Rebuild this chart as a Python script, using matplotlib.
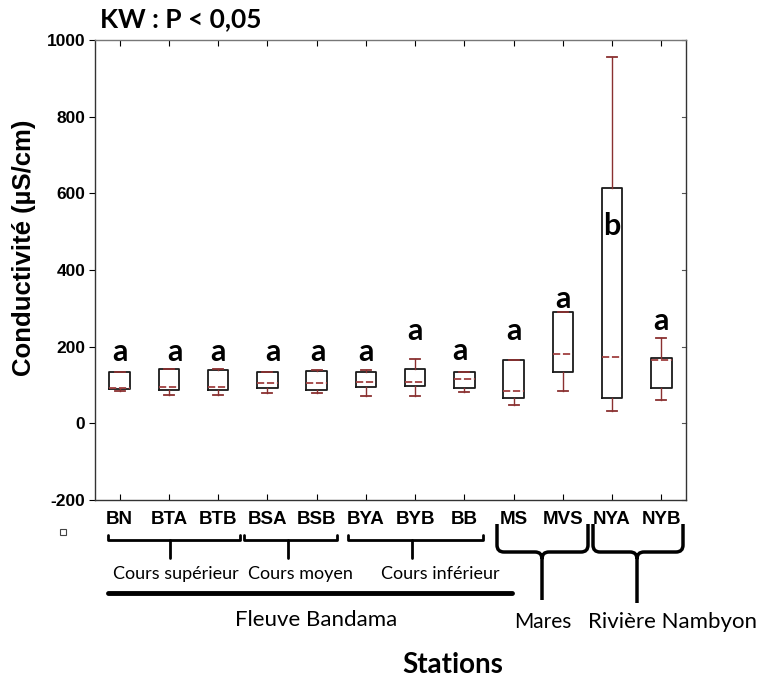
import matplotlib.pyplot as plt
import numpy as np
from matplotlib.path import Path
from matplotlib.patches import PathPatch, Rectangle
from matplotlib.lines import Line2D

plt.rcParams["axes.unicode_minus"] = False

# stations et statistiques des boîtes (µS/cm)
stations = ["BN", "BTA", "BTB", "BSA", "BSB", "BYA", "BYB", "BB", "MS", "MVS", "NYA", "NYB"]
mins = [85, 75, 75, 80, 80, 72, 72, 81, 48, 85, 33, 61]
q1 = [90, 87, 87, 93, 87, 95, 98, 91, 67, 133, 65, 91]
med = [92, 94, 96, 104, 104, 107, 109, 115, 85, 181, 172, 165]
q3 = [135, 142, 140, 135, 137, 135, 142, 135, 165, 291, 615, 170]
maxs = [135, 142, 142, 135, 140, 139, 168, 135, 165, 291, 956, 223]

# lettres du test KW
letters = ["a", "a", "a", "a", "a", "a", "a", "a", "a", "a", "b", "a"]
letter_y = [185, 185, 185, 185, 185, 185, 242, 190, 242, 325, 516, 268]
letter_dx = [0, 0.12, 0, 0.12, 0.03, 0, 0, -0.08, 0, 0, 0, 0]

# groupes de stations
sub_groups = ["Cours supérieur", "Cours moyen", "Cours inférieur"]
main_groups = ["Fleuve Bandama", "Mares", "Rivière Nambyon"]

W, H = 764, 688
fig = plt.figure(figsize=(W / 100, H / 100), dpi=100)
ax = fig.add_axes([95 / W, 1 - 500 / H, (686 - 95) / W, (500 - 40) / H])

stats = []
for i in range(len(stations)):
    stats.append(dict(whislo=mins[i], q1=q1[i], med=med[i], q3=q3[i], whishi=maxs[i], fliers=[]))

wcol = "#8a3030"
ax.bxp(stats, positions=np.arange(len(stations)), widths=0.42, showfliers=False,
       boxprops=dict(color="#1a1a1a", lw=1.3),
       whiskerprops=dict(color=wcol, lw=1.0),
       capprops=dict(color=wcol, lw=1.3),
       medianprops=dict(color="#a04040", lw=1.3, linestyle=(0, (4, 1.5))),
       capwidths=0.2)

for i, (l, y) in enumerate(zip(letters, letter_y)):
    ax.text(i + letter_dx[i], y, l, ha="center", va="center", fontsize=22,
            fontweight="bold", family="Lato")

ax.set_xlim(-0.5, len(stations) - 0.5)
ax.set_ylim(-200, 1000)
ax.set_yticks(np.arange(-200, 1001, 200))
ax.set_xticks(np.arange(len(stations)))
ax.set_xticklabels(stations, fontsize=13.5, fontweight="bold", family="Liberation Sans")
for t in ax.get_yticklabels():
    t.set_fontsize(12.5)
    t.set_fontweight("bold")
    t.set_family("Liberation Sans")
ax.tick_params(axis="x", direction="in", top=True, length=4, pad=8)
ax.tick_params(axis="y", direction="out", length=4, pad=3)
for s in ax.spines.values():
    s.set_color("#333333")
    s.set_linewidth(1.0)
ax.spines["top"].set_color("#777777")
# petits traits à droite
for yv in np.arange(-200, 1001, 200):
    ax.plot([len(stations) - 0.5 - 0.08, len(stations) - 0.5], [yv, yv], color="#555555", lw=0.8, clip_on=False)

ax.set_ylabel("Conductivité (µS/cm)", fontsize=18.5, fontweight="bold", family="Liberation Sans")
ax.yaxis.set_label_coords(-0.1, 0.548)

fig.text(181 / W, 1 - 19 / H, "KW : P < 0,05", ha="center", va="center", fontsize=19,
         fontweight="bold", family="Lato")


def fx(x):
    return x / W


def fy(y):
    return 1 - y / H


def line(xs, ys, lw=2.0):
    fig.add_artist(Line2D([fx(x) for x in xs], [fy(y) for y in ys], color="black", lw=lw,
                          solid_capstyle="round", solid_joinstyle="round"))


# accolades simples des cours
for (x1, x2, xc), lab, xt in zip([(108, 240, 170), (244, 337, 288), (348, 483, 412)],
                                 sub_groups, [176, 300, 440]):
    line([x1, x1, x2, x2], [535, 540, 540, 535], lw=2.0)
    line([xc, xc], [540, 558], lw=2.0)
    fig.text(fx(xt), fy(574), lab, ha="center", va="center", fontsize=13, family="Lato",
             color="black")

line([108, 512], [593, 593], lw=3.5)


def brace(x1, x2, xc, ytop, ymid, ybot):
    r = 7
    verts = [(x1, ytop), (x1, ymid - r), (x1, ymid), (x1 + r, ymid),
             (xc - r, ymid), (xc, ymid), (xc, ymid + r), (xc, ybot),
             (xc, ymid + r), (xc, ymid), (xc + r, ymid),
             (x2 - r, ymid), (x2, ymid), (x2, ymid - r), (x2, ytop)]
    codes = [Path.MOVETO, Path.LINETO, Path.CURVE3, Path.CURVE3,
             Path.LINETO, Path.CURVE3, Path.CURVE3, Path.LINETO,
             Path.MOVETO, Path.CURVE3, Path.CURVE3,
             Path.LINETO, Path.CURVE3, Path.CURVE3, Path.LINETO]
    p = Path([(fx(x), fy(y)) for x, y in verts], codes)
    fig.add_artist(PathPatch(p, fill=False, lw=2.5, edgecolor="black", transform=fig.transFigure))


brace(497, 588, 542, 524, 552, 600)
brace(593, 683, 637, 524, 552, 603)

fig.text(fx(316), fy(620), main_groups[0], ha="center", va="center", fontsize=16, family="Lato",
         color="black")
fig.text(fx(543), fy(622), main_groups[1], ha="center", va="center", fontsize=15, family="Lato",
         color="black")
fig.text(fx(673), fy(622), main_groups[2], ha="center", va="center", fontsize=16, family="Lato",
         color="black")
fig.text(fx(453), fy(665), "Stations", ha="center", va="center", fontsize=20, fontweight="bold",
         family="Lato")

fig.add_artist(Rectangle((fx(60), fy(535)), 6 / W, 6 / H, fill=False, edgecolor="#444444", lw=0.8,
                         transform=fig.transFigure))

fig.savefig("out.png", dpi=100)
